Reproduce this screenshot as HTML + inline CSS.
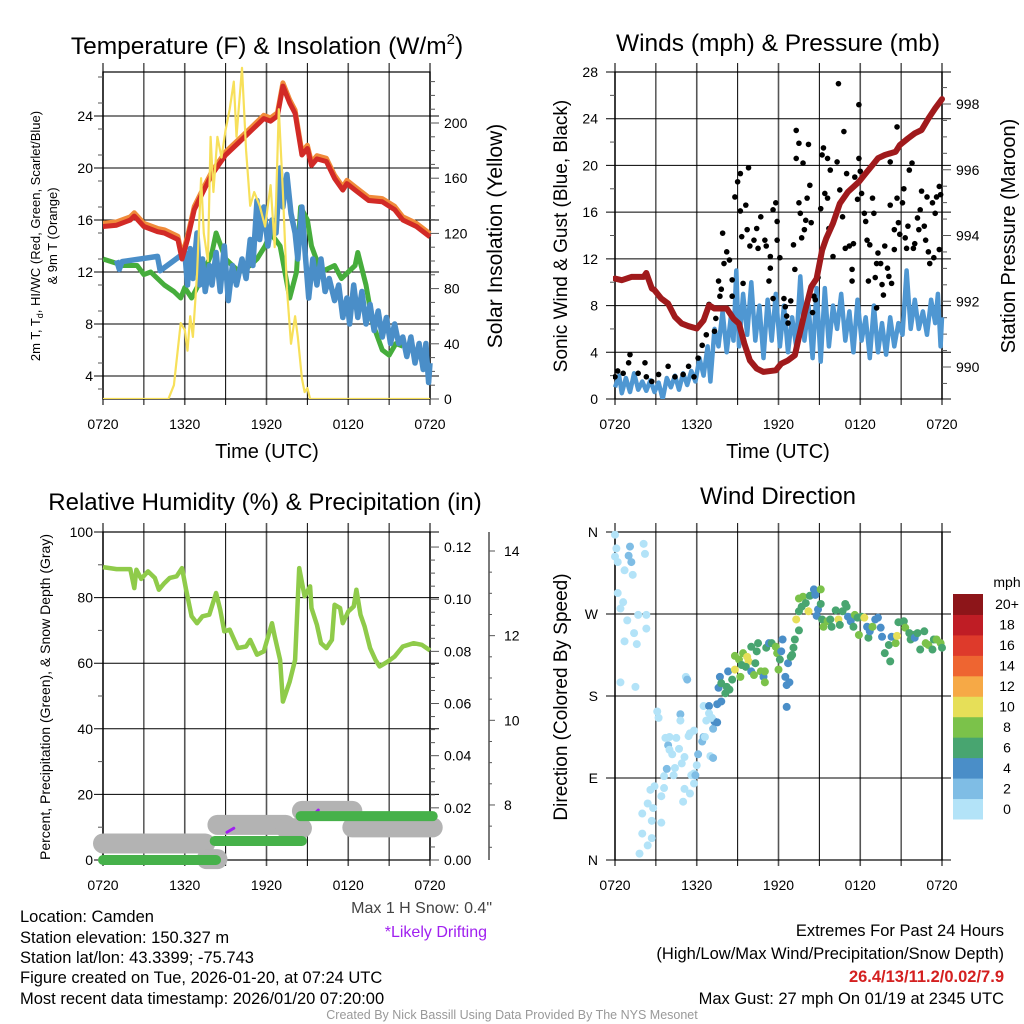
<!DOCTYPE html>
<html><head><meta charset="utf-8"><style>
html,body{margin:0;padding:0;background:#fff;}
svg{display:block;font-family:"Liberation Sans",sans-serif;}
</style></head><body>
<svg id="fig" width="1024" height="1024" viewBox="0 0 1024 1024" xmlns="http://www.w3.org/2000/svg">
<rect width="1024" height="1024" fill="#fff"/>
<g id="p1"></g>
<g id="p2"></g>
<g id="p3"></g>
<g id="p4"></g>
<g font-size="16.5" fill="#000">
<text x="20" y="922">Location: Camden</text>
<text x="20" y="943">Station elevation: 150.327 m</text>
<text x="20" y="963">Station lat/lon: 43.3399; -75.743</text>
<text x="20" y="983">Figure created on Tue, 2026-01-20, at 07:24 UTC</text>
<text x="20" y="1004">Most recent data timestamp: 2026/01/20 07:20:00</text>
<text x="492" y="913" text-anchor="end" fill="#444" font-size="16">Max 1 H Snow: 0.4"</text>
<text x="487" y="937" text-anchor="end" fill="#a020f0" font-size="16">*Likely Drifting</text>
<text x="1004" y="936" text-anchor="end">Extremes For Past 24 Hours</text>
<text x="1004" y="959" text-anchor="end">(High/Low/Max Wind/Precipitation/Snow Depth)</text>
<text x="1004" y="982" text-anchor="end" fill="#d42020" font-weight="bold">26.4/13/11.2/0.02/7.9</text>
<text x="1004" y="1004" text-anchor="end">Max Gust: 27 mph On 01/19 at 2345 UTC</text>
<text x="512" y="1019" text-anchor="middle" font-size="12.5" fill="#999">Created By Nick Bassill Using Data Provided By The NYS Mesonet</text>
</g>
</svg>
<script>
// ---------- data ----------
const timeTicks = ["0720","1320","1920","0120","0720"];
const redT = [[0,15.5],[1,15.6],[2,16],[2.3,16.3],[3,15.5],[4,15.1],[4.5,15],[5.5,14.5],[5.8,13],[6.2,14.5],[6.7,16.8],[7.5,18.5],[8,19.5],[9,21],[10,22],[11,23],[11.8,23.8],[12.3,23.6],[12.8,24],[13.2,26.3],[13.7,25],[14.1,24.2],[14.6,21],[15,21.5],[15.3,20.2],[15.7,20.7],[16.4,20.5],[17,19.2],[17.6,18.3],[17.9,18.8],[18.5,18.3],[19.5,17.5],[20.5,17.4],[21.4,16.8],[22,16],[23,15.5],[24,14.7]];
const greenT = [[0,13],[1.5,12.5],[2.5,12.5],[3,11.8],[3.5,12],[4.5,11],[5.2,10.5],[5.7,10],[6,10.8],[6.5,10],[7,11],[8,13.5],[8.3,15],[9,13],[10,12],[10.8,12.5],[11.3,13],[11.9,14],[12.3,15],[13,14],[13.7,10],[14.2,12],[14.5,17],[15,16],[15.3,14],[16,12],[17,12.5],[17.5,11.5],[18.5,12.5],[18.7,13.5],[19.3,11],[19.8,8],[20.5,6],[21,5.6],[21.5,6.5],[22,6.3]];
const blueT = [[1.0,12.9],[1.2,12.2],[1.4,12.8],[4.0,13.2],[4.2,12.1],[6.0,13.5],[6.2,11],[6.4,13.8],[6.6,11.5],[6.9,15],[7.1,11],[7.3,13],[7.5,10.5],[7.8,12.5],[8.0,11],[8.3,13.5],[8.6,10.5],[8.9,14],[9.2,9.8],[9.5,12.5],[9.8,11],[10.2,13],[10.5,11.5],[10.8,14.5],[11.0,12.5],[11.3,17.5],[11.5,14.5],[11.8,17],[12.1,14],[12.4,16],[12.7,15],[13.0,20],[13.2,17],[13.5,19.5],[13.8,16.5],[14.1,15],[14.3,13],[14.6,17],[14.8,14],[15.1,10],[15.4,13],[15.7,11],[16.0,13],[16.3,10.5],[16.6,11.5],[17.0,9.8],[17.3,11],[17.6,8.5],[17.9,10],[18.1,8],[18.4,11],[18.7,8.5],[19.0,10.5],[19.3,8],[19.6,9.5],[19.9,7.5],[20.2,9],[20.5,7],[20.8,8.5],[21.1,6.5],[21.4,8],[21.7,6.5],[22.0,7],[22.3,5.5],[22.6,7],[22.9,5],[23.2,6.5],[23.5,4.5],[23.7,6.5],[23.9,3.5],[24,5]];
const solar = [[0,0],[4.8,0],[5.2,10],[5.7,55],[6.0,50],[6.2,35],[6.4,60],[6.6,45],[6.9,90],[7.2,160],[7.4,120],[7.7,100],[7.9,190],[8.1,150],[8.4,190],[8.7,175],[9.0,195],[9.3,210],[9.6,230],[9.8,190],[10.2,240],[10.5,180],[10.8,140],[11.1,150],[11.5,140],[11.9,125],[12.3,155],[12.6,110],[12.9,210],[13.2,150],[13.5,80],[13.8,40],[14.1,60],[14.3,45],[14.6,15],[14.8,5],[15.0,8],[15.2,0],[24,0]];
const windSpd = [[0,1],[0.3,2],[0.5,0.5],[0.8,1.8],[1.1,0.6],[1.4,2.2],[1.7,0.8],[2,1.5],[2.3,0.7],[2.6,1.6],[2.9,0.6],[3.2,1.4],[3.5,0],[3.8,1.8],[4.1,1],[4.4,2],[4.7,0.8],[5,2.2],[5.3,1.2],[5.6,2.4],[5.9,1.5],[6.2,3.5],[6.5,2],[6.8,4.5],[7.0,1.5],[7.3,6],[7.6,4.5],[7.9,7.5],[8.2,4],[8.5,7],[8.7,5],[8.9,11],[9.1,4.5],[9.4,9],[9.7,5.5],[10,10],[10.3,5],[10.6,8],[10.9,3.5],[11.2,8.5],[11.5,5],[11.8,9],[12.1,4.5],[12.4,8],[12.7,4],[13,7],[13.3,4.5],[13.6,10.5],[13.9,5],[14.2,8],[14.5,3.5],[14.8,9.5],[15.1,3.2],[15.4,9.5],[15.7,4.5],[16,8],[16.3,6],[16.6,9],[16.9,5],[17.2,7.5],[17.5,4],[17.8,8.5],[18.1,5],[18.4,7],[18.7,3.5],[19,8],[19.3,4],[19.6,6.5],[19.9,3.8],[20.2,7],[20.5,4.5],[20.8,6.5],[21.1,5.5],[21.4,11],[21.7,6],[22,8.5],[22.3,6],[22.6,7.5],[22.9,5.5],[23.2,8.5],[23.5,6.5],[23.7,9],[23.9,4.5],[24,7]];
const gusts = [[0,1.9],[0.2,2.4],[0.6,2.2],[1.1,3.8],[1,3.1],[1.7,2.2],[2.2,3.1],[2.3,1.9],[2.7,1.5],[3.2,2.1],[3.9,2.8],[4.4,1.9],[5,2.1],[5.4,2.8],[5.8,1.9],[6.1,3.5],[6.4,4.6],[6.7,5.5],[6.9,8.1],[7.3,5.8],[7.4,6.9],[7.6,10.1],[7.8,9.4],[7.7,8.8],[7.9,14.2],[8,11.6],[8.2,12.6],[8.4,11.9],[8.6,10.2],[8.6,8.8],[8.8,17.3],[9,18.6],[9.2,19.3],[9.2,16.1],[9.3,13.9],[9.4,9.9],[9.6,16.6],[9.7,14.5],[9.8,19.8],[9.9,13.1],[10.2,13.6],[10.4,14.6],[10.5,12.9],[10.7,15.6],[11,13.6],[11.1,13.1],[11.4,12.2],[11.3,10.1],[11.4,11.2],[11.6,8.6],[11.6,16.2],[11.8,16.8],[11.9,15.2],[11.9,13.6],[12.1,12.1],[12.4,8.6],[12.5,7.9],[12.6,7.1],[12.7,6.5],[12.9,8.4],[13.1,13.2],[13.2,11.1],[13.3,23],[13.3,20.6],[13.5,21.9],[13.5,16.8],[13.6,15.9],[13.7,13.8],[13.8,20.2],[13.9,14.5],[14,15.3],[14.1,17.2],[14.2,21.8],[14.3,18.3],[14.4,15.1],[14.5,7.4],[14.6,8.8],[14.7,8.5],[14.9,10.4],[15.1,16.3],[15.2,20.9],[15.3,21.5],[15.4,17.6],[15.6,20.6],[15.6,17.2],[15.7,14.6],[15.8,19.6],[16,12.2],[16.3,20.3],[16.4,27],[16.5,17.9],[16.7,15.6],[16.8,22.9],[16.9,12.9],[17,19.3],[17.2,13.1],[17.4,11.1],[17.4,10.1],[17.5,13.3],[17.6,19],[17.8,17.1],[17.9,25.2],[17.9,20.6],[18,19.5],[18.1,17.6],[18.3,15.9],[18.4,15.2],[18.5,13.6],[18.6,10.1],[18.7,13.2],[18.9,17.2],[19,15.9],[19.1,10.4],[19.2,7.8],[19.2,11.6],[19.3,12.5],[19.5,11.6],[19.6,9.8],[19.7,8.9],[19.8,13.1],[20,11.2],[20.1,10.5],[20.2,20.3],[20.2,16.6],[20.3,9.9],[20.5,12.8],[20.5,14.5],[20.7,17.2],[20.7,23.3],[20.8,15.1],[20.9,14.1],[21.1,16.8],[21.2,18],[21.3,13.8],[21.4,12.9],[21.5,14.8],[21.6,19.6],[21.8,20.2],[21.9,12.9],[22,13.3],[22.2,15.5],[22.3,14.5],[22.4,16.2],[22.5,17.8],[22.7,14.8],[22.8,13.6],[22.9,17.3],[23,12.6],[23.1,11.6],[23.3,16.8],[23.4,12.1],[23.5,15.9],[23.6,17.3],[23.8,12.8],[23.8,18.2],[23.9,17.5]];
const pressure = [[0,992.69],[0.5,992.64],[1.2,992.74],[2.1,992.74],[2.3,992.86],[2.7,992.39],[2.9,992.34],[3.4,992.08],[3.9,991.93],[4.4,991.52],[4.9,991.32],[5.4,991.24],[6.0,991.17],[6.5,991.42],[6.9,991.88],[7.3,991.78],[8.2,991.78],[8.7,991.47],[9.1,991.32],[9.5,990.71],[9.9,990.2],[10.4,989.95],[10.9,989.85],[11.8,989.9],[12.2,990.1],[12.7,990.2],[13.2,990.36],[13.5,990.91],[13.9,991.62],[14.4,992.44],[14.8,992.69],[15.2,993.55],[15.5,993.91],[16.0,994.37],[16.5,994.97],[17.1,995.33],[17.9,995.63],[18.4,995.89],[18.9,996.14],[19.3,996.35],[19.8,996.45],[20.6,996.55],[20.9,996.75],[21.5,996.95],[22.0,997.11],[22.5,997.21],[23.0,997.56],[23.5,997.87],[24,998.15]];
const rh = [[0,89.3],[1,88.7],[1.5,88.7],[2,88.7],[2.3,82.9],[2.45,88.5],[2.8,85.7],[3.3,88],[3.8,86],[4.1,82.4],[4.5,84.4],[4.9,86],[5.4,86.5],[5.8,89],[6.1,82.4],[6.5,74.3],[6.9,72.2],[7.3,74.3],[7.8,74.8],[8.3,81.4],[8.6,76.3],[8.9,69.7],[9.3,70.2],[9.9,64.6],[10.5,65.1],[10.8,67.1],[11.3,62.6],[11.8,63.6],[12.4,72.2],[12.6,68.2],[13,61],[13.2,48.3],[13.7,54.4],[14.1,61],[14.4,89],[14.8,80.4],[15.2,83.4],[15.3,76.8],[15.7,71.7],[16,66.1],[16.4,64.6],[16.8,67.1],[17,77.8],[17.4,76.8],[17.6,72.2],[18,75.8],[18.4,77.3],[18.6,82.4],[18.9,74.8],[19.2,71.2],[19.6,64.6],[20,61],[20.3,59],[20.9,60.5],[21.4,62],[22,65.1],[22.8,66.1],[23.4,65.6],[24,63.9]];
const precipSegs = [[0,8.3,0],[8.2,14.6,0.0073],[14.5,24.2,0.0168]];
const snowSegs = [[0,7.5,7.09],[7.6,8.4,6.72],[8.4,13.4,7.53],[13.4,14.6,7.45],[14.6,18.3,7.86],[18.3,24.2,7.47]];
const driftSegs = [[9.1,9.6,7.45],[15.5,15.8,7.88]];
const dirHours = [0.0,0.1,0.0,0.2,0.7,1.3,1.0,1.2,1.1,2.1,2.2,0.2,0.6,0.4,0.9,1.7,2.3,1.4,2.3,0.7,1.6,0.4,1.5,1.8,2.0,2.4,2.7,2.0,2.4,2.8,2.7,2.6,2.9,3.4,3.4,3.6,3.6,3.8,4.3,4.4,3.9,3.7,4.0,4.2,4.0,4.5,4.7,4.9,5.1,5.0,5.1,5.5,5.6,5.8,5.8,5.9,6.1,6.0,5.5,5.8,5.4,5.2,5.3,4.8,4.8,3.1,3.2,6.4,6.5,6.6,6.7,6.5,6.9,7.0,7.2,7.2,7.3,6.9,7.1,7.5,7.5,7.8,7.6,7.7,8.3,8.1,8.2,7.8,8.6,8.4,8.8,8.8,9.1,9.3,9.4,9.7,9.8,9.6,9.2,10.0,10.2,10.0,10.5,10.4,10.3,10.7,10.9,11.0,11.0,11.1,11.3,11.5,11.8,11.9,12.1,12.0,12.2,12.3,12.7,12.9,13.0,13.1,13.2,12.5,12.6,12.8,12.6,13.3,13.5,13.5,13.5,13.8,14.0,13.7,14.2,14.3,14.6,14.7,14.9,14.8,15.1,15.1,15.2,15.3,15.6,15.8,15.9,16.2,16.4,16.5,16.7,16.9,17.0,17.1,17.3,17.4,17.5,17.6,17.8,17.9,18.1,18.3,18.5,18.6,18.7,18.9,19.1,19.3,19.5,19.6,19.8,20.1,20.2,20.3,20.6,20.7,20.8,21.2,21.3,21.6,21.7,21.9,22.0,22.2,22.4,22.7,22.8,23.0,23.3,23.4,23.6,23.9,24.0];
const dirDeg = [357,342,333,327,318,313,334,327,344,347,336,293,283,276,263,269,269,249,254,240,237,195,190,7,29,16,24,51,62,57,43,77,81,41,70,79,92,100,93,101,126,134,135,116,121,134,122,106,113,64,78,73,93,84,95,93,116,104,139,142,136,201,198,160,153,163,156,130,135,135,153,169,169,114,112,144,152,161,156,151,171,174,189,201,207,183,190,194,198,187,209,224,220,214,227,223,218,212,201,207,203,234,238,229,216,207,201,195,207,233,238,238,234,227,220,209,229,242,216,223,225,233,242,201,192,195,168,264,252,273,287,289,282,278,273,290,297,291,275,268,281,297,264,256,262,264,256,274,264,258,273,281,278,267,262,266,256,269,266,247,267,266,256,244,251,256,264,266,255,245,227,236,218,245,238,246,261,262,255,249,242,247,244,249,231,251,238,236,231,242,242,238,233];
const dirSpd = [1,1,1,1,1,1,3,3,3,1,1,1,1,1,1,1,1,1,1,1,1,1,1,1,1,1,1,1,1,1,1,1,1,1,1,1,1,3,1,1,3,1,1,1,1,1,1,1,1,1,1,1,1,1,1,3,3,1,1,1,1,1,3,3,1,1,1,3,3,1,1,1,5,1,3,3,5,1,1,5,5,5,5,5,5,7,7,7,7,7,11,9,9,7,9,11,11,7,9,5,9,7,7,7,7,9,5,9,9,7,5,7,9,9,7,9,5,5,5,7,7,7,7,5,5,5,5,11,7,7,9,9,7,7,11,7,5,5,5,5,7,9,7,9,9,7,7,7,11,7,7,7,7,5,5,5,7,9,7,9,7,11,5,7,5,9,5,5,5,5,7,7,7,5,9,11,7,7,9,7,7,7,5,7,7,7,9,9,7,7,9,9,7];
const cbLabels = ["0","2","4","6","8","10","12","14","16","18","20+"];
const cbColors = ["#b3e3f8","#7fbde5","#4a8ec8","#48a570","#7bc24a","#e6df58","#f6a946","#ee6531","#de3a2b","#bf1d25","#8d1519"];

// ---------- helpers ----------
const NS="http://www.w3.org/2000/svg";
function mk(parent,tag,attrs,txt){const e=document.createElementNS(NS,tag);for(const k in attrs)e.setAttribute(k,attrs[k]);if(txt!==undefined)e.textContent=txt;parent.appendChild(e);return e;}
const X0l=103,X1l=430,X0r=615,X1r=942,Yt=72,Yb=399,Yt2=532,Yb2=860;
function tx(x0){return h=>x0+h*(327/24);}
function pathD(pts,fx,fy){return pts.map((p,i)=>(i?"L":"M")+fx(p[0]).toFixed(1)+","+fy(p[1]).toFixed(1)).join("");}

function frame(g,x0,yt,yb,name){
  const fx=tx(x0);
  for(let i=0;i<=8;i++){
    const x=fx(i*3);
    const l=mk(g,"line",{x1:x,x2:x,y1:yt-9,y2:yb+6,stroke:i%2?"#000":"#555","stroke-width":i%2?1:1.6});
    
    
  }
  for(let i=0;i<timeTicks.length;i++){
    const t=mk(g,"text",{x:fx(i*6),y:yb+30,"text-anchor":"middle","font-size":14},timeTicks[i]);
    
    
  }
  mk(g,"rect",{x:x0,y:yt,width:327,height:yb-yt,fill:"none",stroke:"#000","stroke-width":1.2,});
}
function hgrid(g,x0,y,label,lx){
  const l=mk(g,"line",{x1:x0-9,x2:x0+327+9,y1:y,y2:y,stroke:"#000","stroke-width":1});
  
  
  const t=mk(g,"text",{x:lx,y:y+5,"text-anchor":"end","font-size":14},label);
  
  
}
function tick(g,x,y,len){const l=mk(g,"line",{x1:x,x2:x+len,y1:y,y2:y,stroke:"#555","stroke-width":1});}
function rlabel(g,x,y,txt,size,name){const t=mk(g,"text",{x:x,y:y,"text-anchor":"middle","font-size":size,transform:`rotate(-90 ${x} ${y})`},txt);return t;}

// ---------- panel 1 ----------
(function(){
  const g=document.getElementById("p1");const fx=tx(X0l);
  const fy=v=>116-(v-24)*13; const fs=v=>399-v*1.38;
  frame(g,X0l,Yt,Yb,"temperature-plot");
  [4,8,12,16,20,24].forEach(v=>hgrid(g,X0l,fy(v),v,93));
  for(let v=3;v<=27;v+=2){tick(g,X0l-5,fy(v),5);}
  for(let v=0;v<=230;v+=10){const y=fs(v);tick(g,X1l,y,v%40==0?9:5);}
  [0,40,80,120,160,200].forEach(v=>{const t=mk(g,"text",{x:444,y:fs(v)+5,"font-size":14},v);});
  const cp=mk(g,"clipPath",{id:"c1"});mk(cp,"rect",{x:X0l,y:Yt-8,width:330,height:Yb-Yt+8});
  const s=mk(g,"g",{"clip-path":"url(#c1)"});
  mk(s,"path",{d:pathD(greenT,fx,fy),fill:"none",stroke:"#46ad3c","stroke-width":5,"stroke-linejoin":"round",});
  mk(s,"path",{d:pathD(blueT,fx,fy),fill:"none",stroke:"#4a8ec8","stroke-width":5.5,"stroke-linejoin":"round",});
  mk(s,"path",{d:pathD(redT.map(p=>[p[0],p[1]+0.25]),fx,fy),fill:"none",stroke:"#f08b3a","stroke-width":5,"stroke-linejoin":"round",});
  mk(s,"path",{d:pathD(redT,fx,fy),fill:"none",stroke:"#d22a26","stroke-width":5,"stroke-linejoin":"round",});
  mk(s,"path",{d:pathD(solar,fx,fs),fill:"none",stroke:"#f7e05a","stroke-width":2.2,"stroke-linejoin":"round",});
  const t=mk(g,"text",{x:267,y:54,"text-anchor":"middle","font-size":24.5,},"Temperature (F) & Insolation (W/m");
  mk(t,"tspan",{"font-size":15,dy:-10},"2");mk(t,"tspan",{dy:10},")");
  mk(g,"text",{x:267,y:458,"text-anchor":"middle","font-size":20,},"Time (UTC)");
  const yl=rlabel(g,40,236,"",13,"temp-y-axis-title");
  yl.textContent="2m T, T";mk(yl,"tspan",{"font-size":9,dy:3},"d");mk(yl,"tspan",{dy:-3},", HI/WC (Red, Green, Scarlet/Blue)");
  rlabel(g,57,236,"& 9m T (Orange)",13,"temp-y-axis-title-line2");
  rlabel(g,502,236,"Solar Insolation (Yellow)",21,"solar-axis-title");
})();

// ---------- panel 2 ----------
(function(){
  const g=document.getElementById("p2");const fx=tx(X0r);
  const fy=v=>399-v*(327/28); const fp=p=>104+(998-p)*32.875;
  frame(g,X0r,Yt,Yb,"wind-plot");
  [0,4,8,12,16,20,24,28].forEach(v=>hgrid(g,X0r,fy(v),v,598));
  for(let v=2;v<=26;v+=4){tick(g,X0r-5,fy(v),5);}
  for(let p=989;p<=999.01;p+=0.5){const y=fp(p);if(y>Yt&&y<=Yb)tick(g,X1r,y,Math.abs(p-Math.round(p/2)*2)<0.01?9:5);}
  [990,992,994,996,998].forEach(p=>{const t=mk(g,"text",{x:956,y:fp(p)+5,"font-size":14},p);});
  const cp=mk(g,"clipPath",{id:"c2"});mk(cp,"rect",{x:X0r-2,y:Yt,width:333,height:Yb-Yt});
  const s=mk(g,"g",{"clip-path":"url(#c2)"});
  mk(s,"path",{d:pathD(windSpd,fx,fy),fill:"none",stroke:"#4f97d2","stroke-width":4.5,"stroke-linejoin":"round",});
  gusts.forEach(p=>{const c=mk(s,"circle",{cx:fx(p[0]),cy:fy(p[1]),r:2.8,fill:"#000"});});
  mk(s,"path",{d:pathD(pressure,fx,fp),fill:"none",stroke:"#a01a1c","stroke-width":6,"stroke-linejoin":"round","stroke-linecap":"round",});
  mk(g,"text",{x:778,y:51,"text-anchor":"middle","font-size":24.5,},"Winds (mph) & Pressure (mb)");
  mk(g,"text",{x:778,y:458,"text-anchor":"middle","font-size":20,},"Time (UTC)");
  rlabel(g,567,236,"Sonic Wind & Gust (Blue, Black)",19,"wind-y-axis-title");
  rlabel(g,1015,236,"Station Pressure (Maroon)",20,"pressure-axis-title");
})();

// ---------- panel 3 ----------
(function(){
  const g=document.getElementById("p3");const fx=tx(X0l);
  const fy=v=>860-v*3.28; const fpr=v=>860-v*2608; const fsn=v=>860-(v-6.7)*42.33;
  frame(g,X0l,Yt2,Yb2,"humidity-plot");
  [0,20,40,60,80,100].forEach(v=>hgrid(g,X0l,fy(v),v,93));
  for(let v=10;v<=90;v+=20){tick(g,X0l-5,fy(v),5);}
  for(let v=0;v<=0.125;v+=0.005){const y=fpr(v);const maj=Math.abs(v*50-Math.round(v*50))<0.01;tick(g,X1l,y,maj?9:5);}
  [0,0.02,0.04,0.06,0.08,0.10,0.12].forEach(v=>{const t=mk(g,"text",{x:444,y:fpr(v)+5,"font-size":14},v.toFixed(2));});
  mk(g,"line",{x1:489,x2:489,y1:Yt2,y2:Yb2,stroke:"#333","stroke-width":1.3,});
  for(let v=7;v<=14.4;v+=0.5){tick(g,489,fsn(v),Math.abs(v-Math.round(v/2)*2)<0.01?6:3);}
  [8,10,12,14].forEach(v=>{const t=mk(g,"text",{x:504,y:fsn(v)+5,"font-size":14},v);});
  snowSegs.forEach(s=>{const l=mk(g,"line",{x1:fx(s[0]),x2:fx(s[1]),y1:fsn(s[2]),y2:fsn(s[2]),stroke:"#b3b3b3","stroke-width":20,"stroke-linecap":"round"});});
  driftSegs.forEach(s=>{const l=mk(g,"line",{x1:fx(s[0]),x2:fx(s[1]),y1:fsn(s[2])+4,y2:fsn(s[2]),stroke:"#a020f0","stroke-width":3,"stroke-linecap":"round"});});
  precipSegs.forEach(s=>{const l=mk(g,"line",{x1:fx(s[0]),x2:fx(s[1]),y1:fpr(s[2]),y2:fpr(s[2]),stroke:"#46b14a","stroke-width":10,"stroke-linecap":"round"});});
  mk(g,"path",{d:pathD(rh,fx,fy),fill:"none",stroke:"#8fcb4a","stroke-width":4.5,"stroke-linejoin":"round",});
  mk(g,"text",{x:265,y:510,"text-anchor":"middle","font-size":24,},"Relative Humidity (%) & Precipitation (in)");
  rlabel(g,50,697,"Percent, Precipitation (Green), & Snow Depth (Gray)",14,"humidity-y-axis-title");
})();

// ---------- panel 4 ----------
(function(){
  const g=document.getElementById("p4");const fx=tx(X0r);
  const fy=d=>860-d*(328/360);
  frame(g,X0r,Yt2,Yb2,"direction-plot");
  [["N",0],["E",90],["S",180],["W",270],["N",360]].forEach(p=>hgrid(g,X0r,fy(p[1]),p[0],598));
  const cp=mk(g,"clipPath",{id:"c4"});mk(cp,"rect",{x:X0r-6,y:Yt2-6,width:339,height:Yb2-Yt2+12});
  const s=mk(g,"g",{"clip-path":"url(#c4)"});
  for(let i=0;i<dirHours.length;i++){
    const bin=Math.min(10,Math.floor(dirSpd[i]/2));
    const c=mk(s,"circle",{cx:fx(dirHours[i]),cy:fy(dirDeg[i]),r:4,fill:cbColors[bin]});
    
    
  }
  const segH=(819-594)/11;
  for(let i=0;i<11;i++){
    const y=819-(i+1)*segH;
    const r=mk(g,"rect",{x:953,y:y,width:30,height:segH+0.5,fill:cbColors[i]});
    
    
    const t=mk(g,"text",{x:1007,y:y+segH/2+5,"text-anchor":"middle","font-size":14},cbLabels[i]);
    
    
  }
  mk(g,"text",{x:1007,y:587,"text-anchor":"middle","font-size":14,},"mph");
  mk(g,"text",{x:778,y:504,"text-anchor":"middle","font-size":24,},"Wind Direction");
  rlabel(g,567,697,"Direction (Colored By Speed)",19,"direction-y-axis-title");
})();
</script>
</body></html>
